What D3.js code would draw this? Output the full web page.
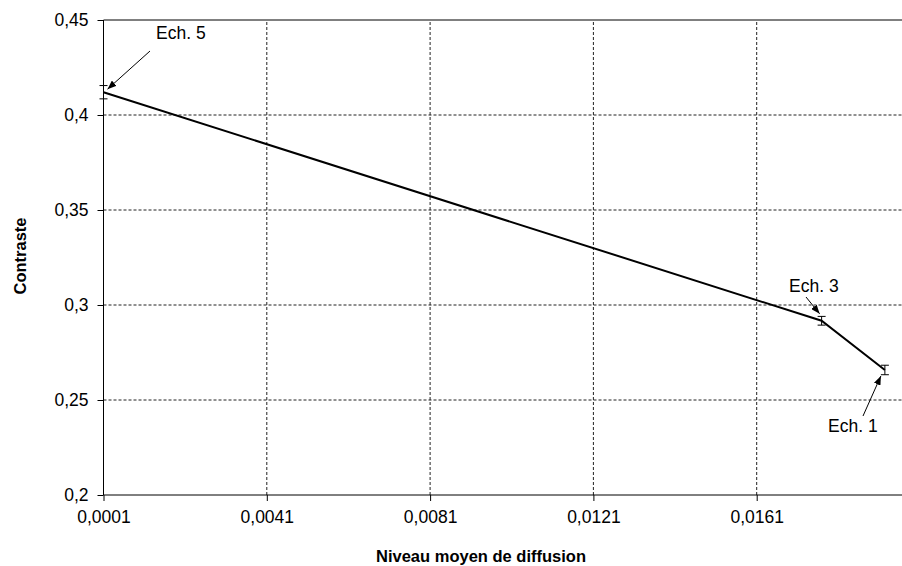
<!DOCTYPE html>
<html>
<head>
<meta charset="utf-8">
<script src="https://cdn.jsdelivr.net/npm/d3@7"></script>
<style>
  body { margin: 0; background: #fff; }
  text { font-family: "Liberation Sans", Arial, sans-serif; }
</style>
</head>
<body>
<svg id="chart" width="902" height="566"></svg>
<script>
// data
var labels = ["Ech. 5", "Ech. 3", "Ech. 1"];
var niveau = [0.0001, 0.01769, 0.01924];
var contraste = [0.412, 0.2917, 0.2658];
var erreur = [0.0035, 0.0023, 0.0025];
var xTicks = [0.0001, 0.0041, 0.0081, 0.0121, 0.0161];
var yTicks = [0.2, 0.25, 0.3, 0.35, 0.4, 0.45];

var MARGIN = { LEFT: 103.5, TOP: 20, BOTTOM: 71 };
var width = 902, height = 566;
var plotRight = 920; // plot runs past the picture edge

var x = d3.scaleLinear()
  .domain([0.0001, 0.0201])
  .range([MARGIN.LEFT, plotRight]);

var y = d3.scaleLinear()
  .domain([0.2, 0.45])
  .range([height - MARGIN.BOTTOM, MARGIN.TOP]);

var fmt = function(d) { return String(d).replace(".", ","); };

var svg = d3.select("#chart");

// grid
svg.append("g")
  .selectAll("line")
  .data(yTicks.filter(function(d) { return d > 0.2 && d < 0.45; }))
  .join("line")
  .attr("x1", MARGIN.LEFT).attr("x2", plotRight)
  .attr("y1", function(d) { return y(d); }).attr("y2", function(d) { return y(d); })
  .attr("stroke", "#222").attr("stroke-dasharray", "3,2");

svg.append("g")
  .selectAll("line")
  .data(xTicks.slice(1))
  .join("line")
  .attr("x1", function(d) { return x(d); }).attr("x2", function(d) { return x(d); })
  .attr("y1", y(0.2)).attr("y2", y(0.45))
  .attr("stroke", "#222").attr("stroke-dasharray", "3,2");

// top border
svg.append("line")
  .attr("x1", MARGIN.LEFT).attr("x2", plotRight)
  .attr("y1", y(0.45)).attr("y2", y(0.45))
  .attr("stroke", "#000");

// axes
var xAxis = d3.axisBottom(x).tickValues(xTicks).tickFormat(fmt).tickSize(6).tickPadding(10);
var yAxis = d3.axisLeft(y).tickValues(yTicks).tickFormat(fmt).tickSize(6).tickPadding(9);

svg.append("g")
  .attr("transform", "translate(0," + y(0.2) + ")")
  .call(xAxis)
  .call(function(g) {
    g.select(".domain").attr("d", "M" + MARGIN.LEFT + ",0H" + plotRight);
    g.selectAll("text").attr("font-size", 17.5).attr("fill", "#000").attr("font-family", "Liberation Sans, Arial, sans-serif");
    g.selectAll("line").attr("stroke", "#000");
  });

svg.append("g")
  .attr("transform", "translate(" + MARGIN.LEFT + ",0)")
  .call(yAxis)
  .call(function(g) {
    g.select(".domain").attr("d", "M0," + y(0.2) + "V" + y(0.45));
    g.selectAll("text").attr("font-size", 17.5).attr("fill", "#000").attr("font-family", "Liberation Sans, Arial, sans-serif");
    g.selectAll("line").attr("stroke", "#000");
  });

// titles
svg.append("text")
  .attr("x", 481).attr("y", 562)
  .attr("text-anchor", "middle")
  .attr("font-size", 16.5).attr("font-weight", "bold")
  .text("Niveau moyen de diffusion");

svg.append("text")
  .attr("transform", "translate(26," + 256 + ") rotate(-90)")
  .attr("text-anchor", "middle")
  .attr("font-size", 16.5).attr("font-weight", "bold")
  .text("Contraste");

// series
var pts = niveau.map(function(d, i) {
  return { x: d, y: contraste[i], e: erreur[i], label: labels[i] };
});

var line = d3.line()
  .x(function(d) { return x(d.x); })
  .y(function(d) { return y(d.y); });

svg.append("path")
  .attr("d", line(pts))
  .attr("fill", "none")
  .attr("stroke", "#000")
  .attr("stroke-width", 2);

// error bars
var eb = svg.append("g").attr("stroke", "#000").attr("stroke-width", 1);
pts.forEach(function(p) {
  var cx = x(p.x);
  eb.append("line").attr("x1", cx).attr("x2", cx).attr("y1", y(p.y - p.e)).attr("y2", y(p.y + p.e));
  eb.append("line").attr("x1", cx - 4).attr("x2", cx + 4).attr("y1", y(p.y - p.e)).attr("y2", y(p.y - p.e));
  eb.append("line").attr("x1", cx - 4).attr("x2", cx + 4).attr("y1", y(p.y + p.e)).attr("y2", y(p.y + p.e));
});

// annotations
svg.append("defs").append("marker")
  .attr("id", "arrow")
  .attr("viewBox", "0 0 10 10")
  .attr("refX", 10).attr("refY", 5)
  .attr("markerWidth", 9).attr("markerHeight", 7)
  .attr("markerUnits", "userSpaceOnUse")
  .attr("orient", "auto")
  .attr("preserveAspectRatio", "none")
  .append("path").attr("d", "M0,0L10,5L0,10Z").attr("fill", "#000");

var notes = [
  { tx: 156, ty: 39, from: [150, 51], off: [4, -3] },
  { tx: 789, ty: 292, from: [806, 297], off: [-2, -7] },
  { tx: 828, ty: 432, from: [863, 416], off: [-4, 6] }
];

notes.forEach(function(n, i) {
  var p = pts[i];
  svg.append("text")
    .attr("x", n.tx).attr("y", n.ty)
    .attr("font-size", 17.5)
    .text(p.label);
  svg.append("line")
    .attr("x1", n.from[0]).attr("y1", n.from[1])
    .attr("x2", x(p.x) + n.off[0]).attr("y2", y(p.y) + n.off[1])
    .attr("stroke", "#000").attr("stroke-width", 1)
    .attr("marker-end", "url(#arrow)");
});
</script>
</body>
</html>
